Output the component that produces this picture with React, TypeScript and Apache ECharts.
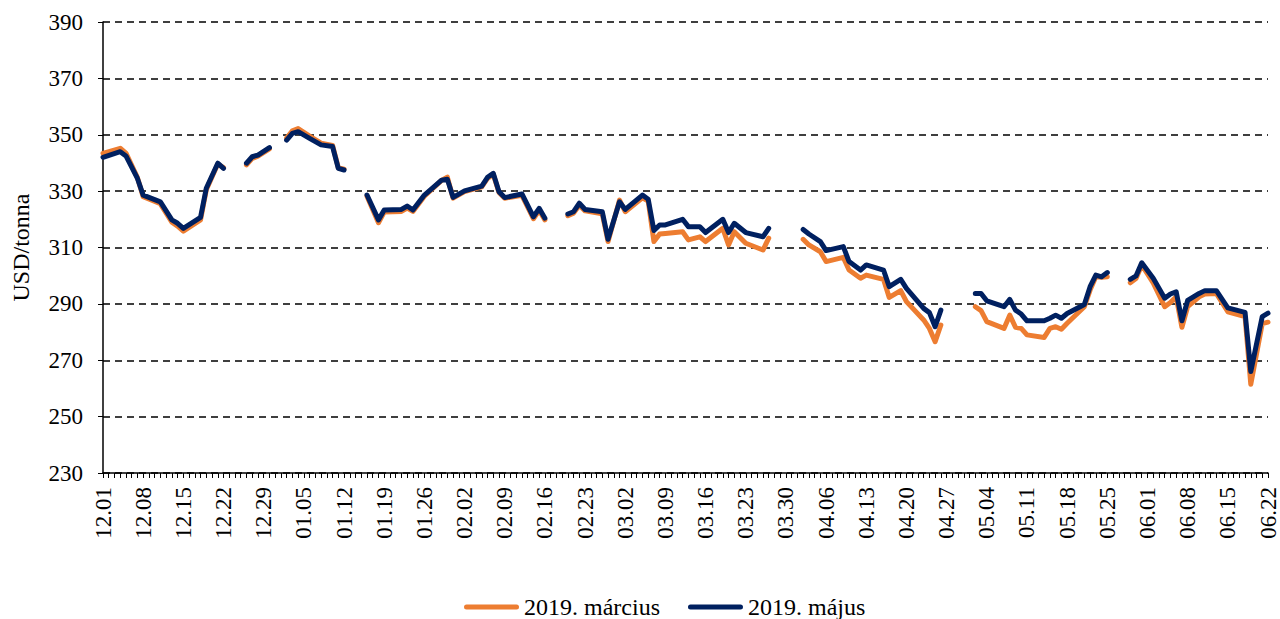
import React, { useEffect, useRef } from "react";
import * as echarts from "echarts";

// Calendar days shown on the category axis (2018-12-01 .. 2019-06-22)
const categories: string[] = (() => {
  const out: string[] = [];
  for (let i = 0; i < 204; i++) {
    const d = new Date(2018, 11, 1 + i);
    out.push(
      String(d.getMonth() + 1).padStart(2, "0") + "." + String(d.getDate()).padStart(2, "0")
    );
  }
  return out;
})();

// Observation dates (null values mark breaks in the lines)
const obsDates = [
  "12.01", "12.04", "12.05", "12.07", "12.08", "12.11", "12.13", "12.14", "12.15", "12.18", "12.19", "12.21", "12.22",
  "12.24",
  "12.26", "12.27", "12.28", "12.30",
  "12.31",
  "01.02", "01.03", "01.04", "01.06", "01.08", "01.10", "01.11", "01.12",
  "01.14",
  "01.16", "01.18", "01.19", "01.22", "01.23", "01.24", "01.26", "01.29", "01.30", "01.31", "02.02", "02.05", "02.06", "02.07", "02.08", "02.09", "02.12", "02.14", "02.15", "02.16",
  "02.18",
  "02.20", "02.21", "02.22", "02.23", "02.26", "02.27", "03.01", "03.02", "03.05", "03.06", "03.07", "03.08", "03.09", "03.12", "03.13", "03.15", "03.16", "03.19", "03.20", "03.21", "03.23", "03.26", "03.27",
  "03.30",
  "04.02", "04.03", "04.05", "04.06", "04.09", "04.10", "04.12", "04.13", "04.16", "04.17", "04.19", "04.20", "04.23", "04.24", "04.25", "04.26",
  "04.29",
  "05.02", "05.03", "05.04", "05.07", "05.08", "05.09", "05.10", "05.11", "05.14", "05.15", "05.16", "05.17", "05.18", "05.21", "05.22", "05.23", "05.24", "05.25",
  "05.27",
  "05.29", "05.30", "05.31", "06.02", "06.04", "06.05", "06.06", "06.07", "06.08", "06.10", "06.11", "06.13", "06.15", "06.18", "06.19", "06.21", "06.22",
];

// 2019. március contract
const marchValues: (number | null)[] = [
  343.4, 345.2, 343.5, 334.8, 328.0, 325.5, 319.0, 317.6, 315.8, 319.8, 330.5, 339.6, 338.3,
  null,
  339.3, 341.6, 342.4, 345.0,
  null,
  348.8, 351.4, 352.2, 349.5, 347.0, 346.2, 338.3, 337.8,
  null,
  328.2, 318.8, 322.6, 322.8, 324.0, 322.8, 328.2, 333.8, 335.0, 327.5, 329.8, 331.5, 334.5, 336.0, 329.5, 327.5, 328.5, 320.2, 323.2, 319.8,
  null,
  321.3, 322.2, 325.0, 323.0, 322.0, 312.1, 326.8, 322.7, 327.6, 326.5, 312.1, 314.8, 315.0, 315.6, 312.7, 313.8, 312.1, 316.8, 310.9, 315.6, 311.5, 309.1, 313.3,
  null,
  312.9, 310.9, 308.5, 305.0, 306.5, 302.0, 299.1, 300.2, 298.7, 292.3, 294.7, 290.8, 284.3, 281.3, 276.6, 282.5,
  null,
  289.0, 287.6, 283.7, 281.3, 286.0, 281.7, 281.3, 279.0, 278.1, 281.3, 281.9, 281.0, 283.1, 289.0, 294.9, 299.6, 299.4, 299.6,
  null,
  297.5, 299.0, 303.8, 297.4, 289.0, 290.5, 292.5, 281.7, 289.0, 292.5, 293.5, 293.7, 287.2, 285.5, 261.5, 283.0, 283.5,
];

// 2019. május contract
const mayValues: (number | null)[] = [
  342.0, 344.0, 342.5, 334.5, 328.6, 326.2, 319.8, 318.6, 316.8, 320.7, 331.0, 339.9, 338.1,
  null,
  339.9, 342.2, 342.8, 345.4,
  null,
  348.1, 350.5, 351.1, 348.7, 346.4, 345.8, 338.1, 337.5,
  null,
  328.6, 319.8, 323.3, 323.5, 324.7, 323.3, 328.6, 333.9, 334.2, 327.8, 330.1, 331.8, 334.9, 336.3, 329.8, 327.7, 329.0, 320.9, 323.9, 320.4,
  null,
  321.9, 322.7, 325.7, 323.5, 322.7, 312.9, 326.2, 323.5, 328.6, 327.1, 316.0, 318.0, 318.0, 320.0, 317.4, 317.4, 315.3, 320.0, 315.3, 318.6, 315.3, 313.8, 316.8,
  null,
  316.4, 314.8, 312.1, 308.9, 310.3, 305.0, 302.0, 303.8, 302.0, 296.1, 298.7, 295.5, 288.4, 286.9, 281.9, 287.8,
  null,
  293.7, 293.7, 291.1, 289.0, 291.6, 287.8, 286.4, 284.0, 284.0, 284.9, 286.0, 284.9, 286.6, 289.8, 296.1, 300.2, 299.6, 301.1,
  null,
  298.7, 299.9, 304.6, 299.1, 292.0, 293.5, 294.3, 284.0, 291.2, 293.7, 294.7, 294.7, 288.6, 287.0, 266.0, 285.5, 286.7,
];

const seriesNames = ["2019. március", "2019. május"];
const seriesColors = ["#ED7D31", "#002060"];

const FONT = "'Liberation Serif', 'Times New Roman', serif";

function toData(vals: (number | null)[]) {
  return obsDates.map((d, i) => [categories.indexOf(d), vals[i] == null ? "-" : vals[i]]);
}

export default function App() {
  const ref = useRef<HTMLDivElement>(null);
  useEffect(() => {
    if (!ref.current) return;
    const chart = echarts.init(ref.current, undefined, { renderer: "svg" });
    const legendIcon =
      "path://M2.5,0 L52.5,0 A2.5,2.5 0 0 1 52.5,5 L2.5,5 A2.5,2.5 0 0 1 2.5,0 Z";
    chart.setOption({
      animation: false,
      backgroundColor: "#ffffff",
      grid: { left: 103, right: 12, top: 22, bottom: 146, containLabel: false },
      legend: {
        data: seriesNames,
        left: 459,
        top: 590,
        icon: legendIcon,
        itemWidth: 55,
        itemHeight: 5,
        itemGap: 28,
        textStyle: { fontFamily: FONT, fontSize: 24, color: "#000" },
      },
      xAxis: {
        type: "category",
        data: categories,
        boundaryGap: false,
        axisLine: { show: true, lineStyle: { color: "#000", width: 1.5 } },
        axisTick: { show: true, interval: 0, length: 5, lineStyle: { color: "#000", width: 1 } },
        axisLabel: {
          interval: 6,
          rotate: 90,
          margin: 14,
          fontFamily: FONT,
          fontSize: 23,
          color: "#000",
        },
        splitLine: { show: false },
      },
      yAxis: {
        type: "value",
        min: 230,
        max: 390,
        interval: 20,
        name: "USD/tonna",
        nameLocation: "middle",
        nameRotate: 90,
        nameGap: 70,
        nameTextStyle: { fontFamily: FONT, fontSize: 24, color: "#000" },
        axisLine: { show: true, lineStyle: { color: "#000", width: 1.5 } },
        axisTick: { show: true, length: 5, lineStyle: { color: "#000", width: 1 } },
        axisLabel: { margin: 20, fontFamily: FONT, fontSize: 23, color: "#000" },
        splitLine: { show: true, lineStyle: { color: "#000", width: 1.5, type: [7, 5] } },
      },
      series: [0, 1].map((k) => ({
        name: seriesNames[k],
        type: "line",
        data: toData(k === 0 ? marchValues : mayValues),
        showSymbol: false,
        symbol: "none",
        connectNulls: false,
        color: seriesColors[k],
        lineStyle: { color: seriesColors[k], width: 5, cap: "round", join: "round" },
        z: 2 + k,
      })),
    });
    return () => chart.dispose();
  }, []);
  return (
    <div
      ref={ref}
      style={{ position: "fixed", left: 0, top: 0, width: 1280, height: 619, background: "#fff" }}
    />
  );
}
